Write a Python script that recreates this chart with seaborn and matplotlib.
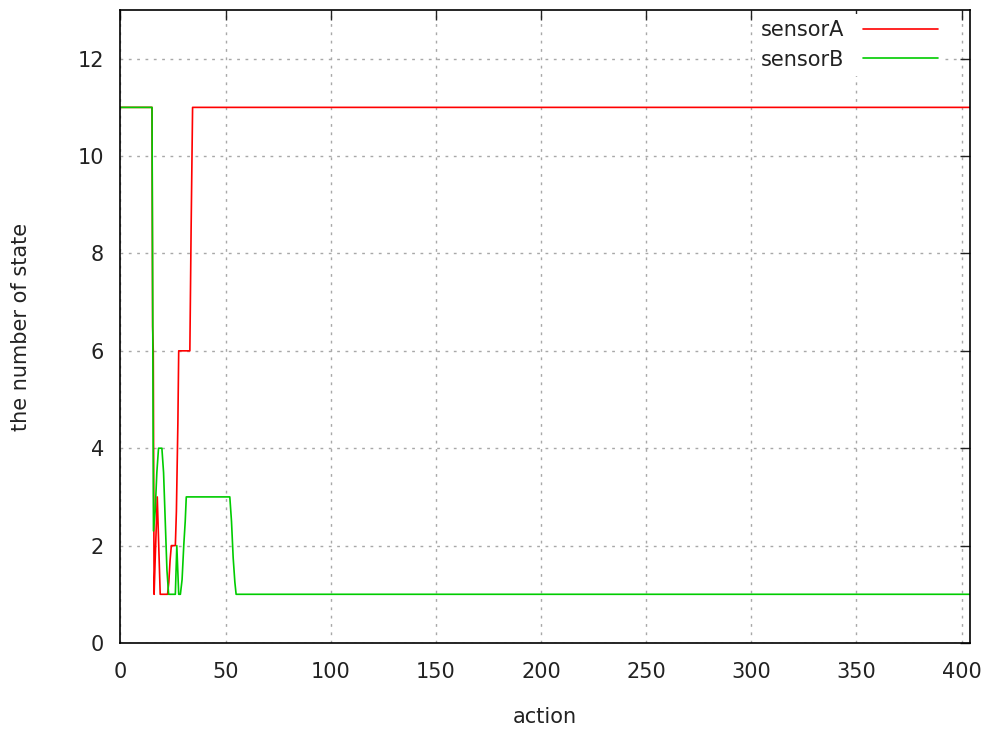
import matplotlib
matplotlib.use("Agg")
import matplotlib.pyplot as plt
import seaborn as sns
import pandas as pd

# sensorA breakpoints (action, number of state)
a_x = [0, 15, 15.3, 15.6, 16, 16.5, 17.5, 18.2, 18.9, 22.4, 23, 23.6, 24.2, 26.1, 26.6, 27.3, 27.7, 33, 33.6, 34.3, 404]
a_y = [11, 11, 6.5, 6, 1, 1.7, 3, 2, 1, 1, 1.25, 1.7, 2, 2, 2.7, 4.5, 6, 6, 8.5, 11, 11]

# sensorB breakpoints
b_x = [0, 15, 15.7, 16.5, 17.3, 18.1, 19.7, 20.5, 21.3, 22.1, 22.9, 26.1, 26.8, 27.7, 28.5, 29.3, 30.1, 30.8, 31.3, 52, 52.8, 53.6, 54.4, 55, 404]
b_y = [11, 11, 2.3, 2.7, 3.5, 4, 4, 3.5, 2.5, 1.5, 1, 1, 2, 1, 1, 1.3, 2, 2.5, 3, 3, 2.5, 1.75, 1.25, 1, 1]

series_names = ["sensorA", "sensorB"]
colors = ["#ff0000", "#00cc00"]
x_ticks = [0, 50, 100, 150, 200, 250, 300, 350, 400]
y_ticks = [0, 2, 4, 6, 8, 10, 12]

df = pd.concat([
    pd.DataFrame({"action": a_x, "state": a_y, "sensor": series_names[0]}),
    pd.DataFrame({"action": b_x, "state": b_y, "sensor": series_names[1]}),
])

sns.set_style("white")
plt.rcParams["font.family"] = ["DejaVu Sans"]

fig = plt.figure(figsize=(9.89, 7.35), dpi=100)
ax = fig.add_axes([0.1218, 0.1252, 0.8590, 0.8612])

sns.lineplot(data=df, x="action", y="state", hue="sensor", palette=colors,
             hue_order=series_names, sort=False, estimator=None, linewidth=1.2, ax=ax)

ax.set_xlim(0, 404)
ax.set_ylim(0, 13)
ax.set_xticks(x_ticks)
ax.set_yticks(y_ticks)
ax.tick_params(direction="in", length=7, width=1, labelsize=15, colors="#222222",
               top=True, right=True)
ax.tick_params(axis="x", pad=14)
ax.tick_params(axis="y", pad=12)
for s in ax.spines.values():
    s.set_color("#000000")
    s.set_linewidth(1.2)
ax.grid(True, color="#a8a8a8", linestyle=(0, (2, 4)), linewidth=1)
ax.set_axisbelow(True)
ax.set_xlabel("action", fontsize=15, color="#222222", labelpad=18)
ax.set_ylabel("the number of state", fontsize=15, color="#222222", labelpad=33)

leg = ax.legend(loc="upper right", frameon=True, markerfirst=False, fontsize=15,
                handlelength=3.6, borderaxespad=0.2, labelspacing=0.45,
                handletextpad=0.9, bbox_to_anchor=(0.975, 1.0),
                facecolor="white", edgecolor="none", framealpha=1.0, fancybox=False,
                borderpad=0.3)
for t in leg.get_texts():
    t.set_color("#222222")

fig.savefig("out.png", dpi=100)
